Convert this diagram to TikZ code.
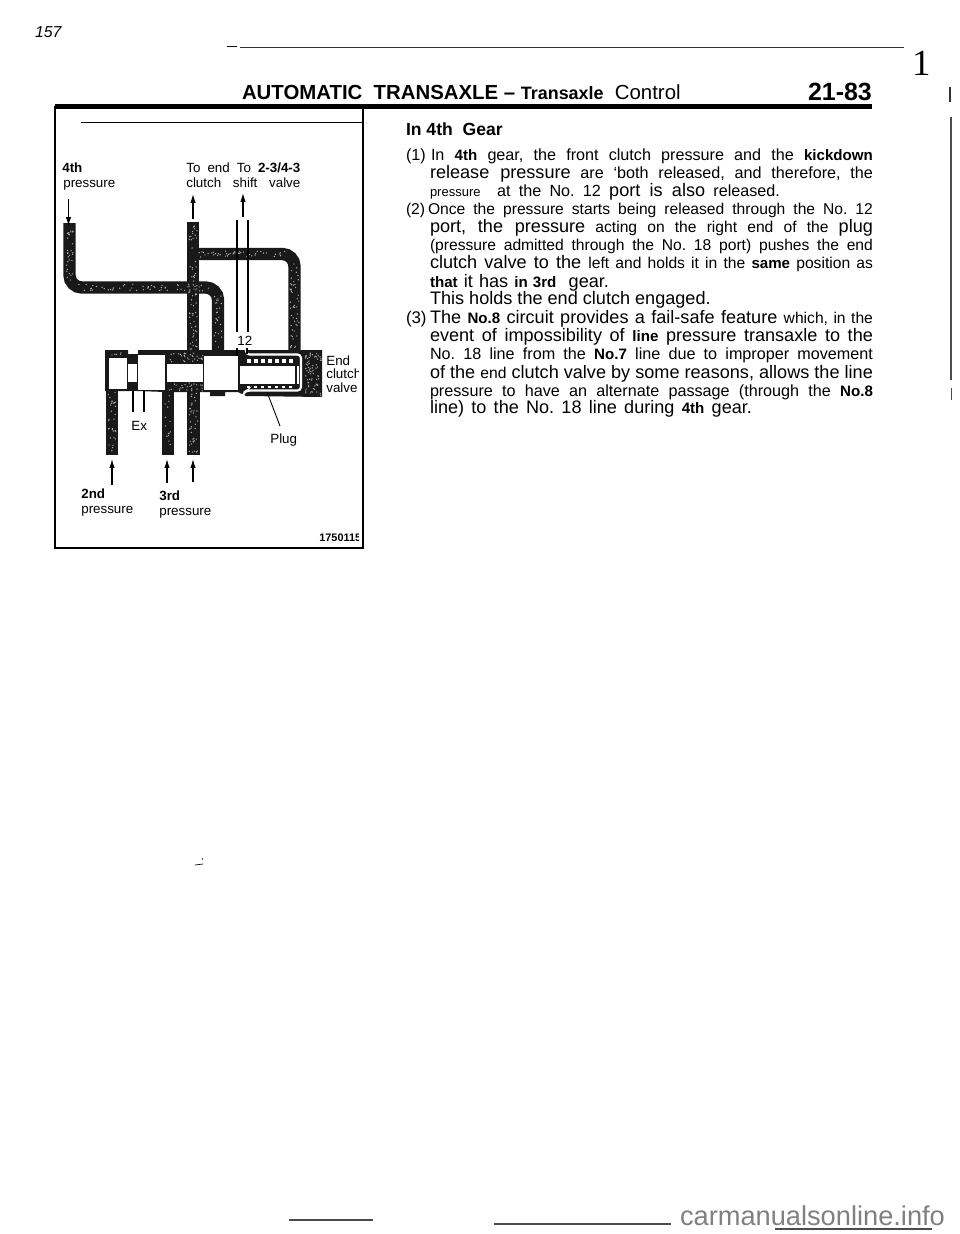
\documentclass[tikz,border=0pt]{standalone}
\usepackage{fontspec}
\setmainfont{Liberation Sans}
\newfontfamily\pagefont{Liberation Serif}
\usepackage{tikz}
\usetikzlibrary{arrows.meta}
\frenchspacing

\newcommand{\jline}[1]{\makebox[8.86cm][s]{#1}}
\newcommand{\pipe}[1]{\draw[pipe] #1;}
\newcommand{\grain}[5]{\foreach \i in {1,...,#5} {\fill[white!70!black] ({#1+rnd*(#3-#1)},{#2+rnd*(#4-#2)}) circle (0.4pt);}}
\newcommand{\cn}{\fontsize{8.9}{10}\selectfont}
\newcommand{\nm}{\fontsize{9.2}{10}\selectfont}
\newcommand{\bg}{\fontsize{10.3}{11}\selectfont}
\newcommand{\bd}{\fontsize{8.6}{10}\selectfont\bfseries}
\tikzset{
    x=0.02cm,y=-0.02cm,
    pipe/.style={line width=7pt,black!90,rounded corners=7pt},
    txt/.style={anchor=base west,inner sep=0pt,outer sep=0pt},
    lbl/.style={anchor=base west,inner sep=0pt,font=\fontsize{7.6}{9}\selectfont},
    blbl/.style={anchor=base west,inner sep=0pt,font=\fontsize{7.6}{9}\selectfont\bfseries},
    land/.style={fill=white,draw=none},
    ptr/.style={-{Latex[length=5pt,width=3pt]},line width=0.6pt},
    thin line/.style={line width=0.6pt},
}

\begin{document}
\begin{tikzpicture}
    \useasboundingbox (0,0) rectangle (960,1234);
    \pgfmathsetseed{157}

    % page header
    \node[txt,font=\itshape\fontsize{9}{10}\selectfont] (pageno) at (35,37) {157};
    \draw[line width=0.3pt] (227,46) -- (237,46);
    \draw[line width=0.7pt,black!80] (240,47.5) -- (904,47.5);
    \node[txt,font=\pagefont\fontsize{21}{22}\selectfont] (one) at (912,75) {1};
    \node[txt,font=\fontsize{11.6}{13}\selectfont\bfseries] (head) at (242,99) {AUTOMATIC \ TRANSAXLE -- {\fontsize{10.2}{12}\selectfont Transaxle} \ \mdseries Control};
    \node[txt,font=\fontsize{14.2}{15}\selectfont\bfseries] (pagenum) at (808,100) {21-83};
    \draw[line width=2.3pt] (55,106.5) -- (872,106.5);
    \draw[line width=0.7pt,black!80] (950,87) -- (950,102);
    \draw[line width=0.8pt,black!70] (951,117) -- (951,380);
    \draw[line width=0.4pt,black!70] (951,388) -- (951,400);

    % frame of the figure
    \draw[line width=1pt] (55,106) -- (55,548) -- (363,548) -- (363,106);
    \draw[line width=0.8pt] (81,122.5) -- (363,122.5);

    % pipes
    \pipe{(69.5,223) -- (69.5,287.5) -- (218,287.5) -- (218,353)}
    \pipe{(193,222) -- (193,353)}
    \pipe{(193,254) -- (294.5,254) -- (294.5,353)}
    \pipe{(112,388) -- (112,455)}
    \pipe{(168,383) -- (168,455)}
    \pipe{(193.5,383) -- (193.5,455)}
    \grain{66}{228}{73}{280}{30}
    \grain{78}{284}{212}{291}{55}
    \grain{189}{226}{197}{350}{70}
    \grain{214}{296}{222}{350}{25}
    \grain{199}{251}{285}{257}{45}
    \grain{290}{262}{299}{350}{50}
    \grain{108}{392}{116}{453}{30}
    \grain{165}{395}{171}{453}{14}
    \grain{189}{388}{198}{453}{40}

    % valve body
    \fill[black!90] (105,350) -- (128,350) -- (128,354) -- (138,354) -- (138,350) -- (322,350) -- (322,397) -- (246,396) -- (238,392) -- (225,392) -- (225,396) -- (210,396) -- (210,392) -- (165,392) -- (138,391) -- (105,391) -- cycle;
    \grain{305}{353}{321}{396}{70}
    \grain{167}{352}{203}{362}{30}
    \grain{167}{383}{203}{391}{25}
    \grain{108}{351}{126}{356}{5}
    \fill[land] (109,358) rectangle (127,389);
    \fill[land] (128,364) rectangle (137,382);
    \fill[land] (138,355) rectangle (165,390);
    \fill[land] (167,364) rectangle (203,382);
    \fill[land] (204,356) rectangle (238,390);
    \fill[land] (240,366) rectangle (295,384);
    \fill[land] (297,366) rectangle (298.5,384);
    % white line round the plug chamber
    \draw[white,line width=1.2pt,rounded corners=2pt] (246,349) -- (246,354.5) -- (301,354.5) -- (301,390.5) -- (247,390.5) -- (243,393) -- (243,396);
    % spring
    \foreach \x in {247,254,...,291} {
        \fill[white] (\x,359) rectangle (\x+3.5,362.5);
        \fill[white] (\x,385.5) rectangle (\x+2.5,387.5);
    }
    \draw[thin line,white] (130,348) -- (130,352) -- (137,352);
    \draw[thin line,white] (130,392) -- (137,392);

    % thin lines
    \draw[thin line] (237,220) -- (237,332);
    \draw[thin line] (248,220) -- (248,332);
    \draw[thin line] (237,348) -- (237,356);
    \draw[thin line] (247,348) -- (247,354);
    \draw[thin line] (133,391) -- (133,412);
    \draw[thin line] (144,391) -- (144,412);
    \draw[line width=0.5pt] (267,392) -- (280,426);

    % arrows
    \draw[ptr] (68.5,199) -- (68.5,226);
    \draw[ptr] (193,219) -- (193,194);
    \draw[ptr] (243,217) -- (243,193);
    \draw[ptr] (112,485) -- (112,459);
    \draw[ptr] (167,483) -- (167,459);
    \draw[ptr] (193,482) -- (193,459);

    % figure labels
    \node[blbl] (fourth) at (62,172) {4th};
    \node[lbl] (fourthp) at (63,187) {pressure};
    \node[lbl] (toend) at (186,172) {\makebox[2.28cm][s]{To end To \textbf{2-3/4-3}}};
    \node[lbl] (shift) at (186,187) {\makebox[2.28cm][s]{clutch shift valve}};
    \node[lbl] (twelve) at (237,345) {12};
    \node[lbl] (exh) at (131,430) {Ex};
    \node[lbl] (plug) at (270,443) {Plug};
    \node[blbl] (second) at (81,498) {2nd};
    \node[lbl] (secondp) at (81,513) {pressure};
    \node[blbl] (third) at (159,500) {3rd};
    \node[lbl] (thirdp) at (159,515) {pressure};
    \begin{scope}
        \clip (300,340) rectangle (358,550);
        \node[lbl] (endv) at (326,365) {End};
        \node[lbl] (clutchv) at (326,378) {clutch};
        \node[lbl] (valvev) at (326,392) {valve};
        \node[blbl,font=\fontsize{6.2}{8}\selectfont\bfseries] (code) at (319,541) {1750115};
    \end{scope}

    % text column
    \node[txt,font=\fontsize{10}{11}\selectfont\bfseries] (gear) at (406,135) {In 4th \ Gear};
    \node[txt,font=\nm] (no1) at (406,160) {(1)};
    \node[txt,font=\nm] (l1) at (431,160) {\makebox[8.84cm][s]{In {\bd 4th} gear, the front clutch pressure and the {\bd kickdown}}};
    \node[txt,font=\nm] (l2) at (430,178) {\jline{{\bg release pressure} are ‘both released, and therefore, the}};
    \node[txt,font=\nm] (l3) at (430,196) {\makebox[7cm][s]{{\fontsize{7.4}{9}\selectfont pressure} \ at the No. 12 {\bg port is also} released.}};
    \node[txt,font=\cn] (no2) at (406,214) {(2)};
    \node[txt,font=\cn] (l4) at (428,214) {\makebox[8.9cm][s]{Once the pressure starts being released through the No. 12}};
    \node[txt,font=\cn] (l5) at (430,232) {\jline{{\bg port, the pressure} acting on the right end of the {\bg plug}}};
    \node[txt,font=\cn] (l6) at (430,250) {\jline{(pressure admitted through the No. 18 port) pushes the end}};
    \node[txt,font=\bg] (l7) at (430,268) {\jline{clutch valve to the {\cn left and holds it in the {\bd same} position as}}};
    \node[txt,font=\bg] (l8) at (430,287) {\makebox[3.58cm][s]{{\bd that} it has {\bd in 3rd} \ gear.}};
    \node[txt,font=\bg] (l9) at (430,304) {This holds the end clutch engaged.};
    \node[txt,font=\fontsize{9.6}{11}\selectfont] (no3) at (406,323) {(3)};
    \node[txt,font=\bg] (l10) at (430,323) {\jline{The {\bd No.8} circuit provides a fail-safe feature {\cn which, in the}}};
    \node[txt,font=\bg] (l11) at (430,341) {\jline{event of impossibility of {\bd line} pressure transaxle to the}};
    \node[txt,font=\nm] (l12) at (430,359) {\jline{No. 18 line from the {\bd No.7} line due to improper movement}};
    \node[txt,font=\bg] (l13) at (430,378) {\jline{of the {\cn end} clutch valve by some reasons, allows the line}};
    \node[txt,font=\nm] (l14) at (430,396) {\jline{pressure to have an alternate passage (through the {\bd No.8}}};
    \node[txt,font=\bg] (l15) at (430,413) {\makebox[6.44cm][s]{line) to the No. 18 line during {\bd 4th} gear.}};

    % bottom of the page
    \draw[line width=0.4pt] (195,865) -- (203,864);
    \draw[line width=0.3pt] (203,858) -- (202,860);
    \draw[line width=0.7pt,black!70] (289,1220) -- (373,1220);
    \draw[line width=0.7pt,black!70] (494,1224) -- (671,1224);
    \draw[line width=0.7pt,black!70] (775,1229) -- (932,1229);
    \node[txt,font=\fontsize{15.5}{16}\selectfont,black!50] (site) at (680,1225) {carmanualsonline.info};
\end{tikzpicture}
\end{document}
